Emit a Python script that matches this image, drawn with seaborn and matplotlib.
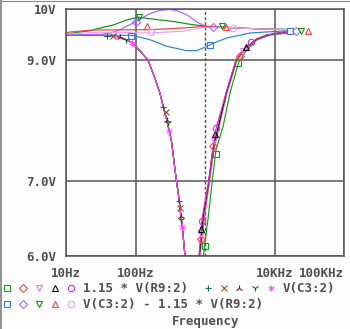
import matplotlib
matplotlib.use("Agg")
import matplotlib.pyplot as plt
import numpy as np
import pandas as pd
import seaborn as sns
from matplotlib.lines import Line2D
from matplotlib.path import Path

# ---------------------------------------------------------------------------
# AC sweep results (frequency in Hz, magnitude in V), five parameter runs each
# ---------------------------------------------------------------------------

# 1.15 * V(R9:2)
r9_run1_f = [800, 945, 1116, 1261, 1440, 1816, 2289, 3034, 3981, 5546, 8610, 14160, 15000]
r9_run1_v = [5.5, 6.0, 6.51, 6.975, 7.475, 7.837, 8.406, 8.95, 9.188, 9.379, 9.477, 9.51, 9.51]
r9_run2_f = [720, 847, 983, 1153, 1334, 1589, 2073, 2886, 3981, 5546, 7727, 13250, 15000]
r9_run2_v = [5.3, 6.0, 6.51, 6.975, 7.475, 7.837, 8.406, 9.0, 9.24, 9.39, 9.47, 9.525, 9.53]
r9_run3_f = [710, 835, 965, 1135, 1310, 1560, 2040, 2840, 3981, 5546, 7727, 13250, 15000]
r9_run3_v = [5.3, 6.0, 6.53, 6.975, 7.475, 7.837, 8.406, 9.0, 9.245, 9.395, 9.473, 9.528, 9.533]
r9_run4_f = [705, 828, 955, 1125, 1300, 1550, 2020, 2815, 3981, 5546, 7727, 13250, 15000]
r9_run4_v = [5.3, 6.0, 6.55, 6.975, 7.475, 7.837, 8.406, 9.0, 9.248, 9.398, 9.475, 9.53, 9.535]
r9_run5_f = [700, 820, 897, 945, 1116, 1290, 1440, 2005, 2793, 3981, 5546, 7727, 13250, 15000]
r9_run5_v = [5.3, 6.0, 6.45, 6.58, 6.975, 7.475, 7.80, 8.406, 9.0, 9.25, 9.40, 9.477, 9.53, 9.536]

# V(C3:2) (all five runs coincide)
c3_f = [10, 30.8, 39.3, 47.9, 59.8, 73, 89.9, 116, 151, 185, 225, 251, 281, 306,
        332, 370, 427, 452, 471, 515, 569]
c3_v = [9.477, 9.471, 9.463, 9.46, 9.432, 9.385, 9.322, 9.169, 9.0, 8.707, 8.402,
        8.171, 7.953, 7.774, 7.584, 7.172, 6.717, 6.494, 6.374, 6.004, 5.595]

# V(C3:2) - 1.15 * V(R9:2)
df_run1_f = [10, 30, 50, 92, 161, 281, 545, 760, 1000, 1176, 2051, 4440, 13250, 15000]
df_run1_v = [9.47, 9.47, 9.475, 9.467, 9.385, 9.258, 9.175, 9.175, 9.239, 9.289, 9.418,
             9.516, 9.555, 9.555]
df_run2_f = [10, 30.9, 43, 59.8, 75.5, 92, 116, 161.7, 225, 313, 409, 569, 767, 1033,
             2530, 5240, 15000]
df_run2_v = [9.483, 9.487, 9.516, 9.575, 9.655, 9.71, 9.795, 9.907, 9.969, 9.99, 9.959,
             9.867, 9.735, 9.645, 9.62, 9.60, 9.585]
df_run3_f = [10, 22.1, 34.4, 47.9, 74.7, 108.6, 190.8, 370, 569, 1000, 2530, 5240, 15000]
df_run3_v = [9.497, 9.561, 9.629, 9.675, 9.775, 9.83, 9.789, 9.741, 9.695, 9.65, 9.62,
             9.60, 9.585]
df_run4_f = [10, 11.4, 24.5, 161.7, 482, 1046, 2530, 5240, 15000]
df_run4_v = [9.52, 9.536, 9.575, 9.581, 9.615, 9.649, 9.62, 9.60, 9.585]
df_run5_f = [10, 30.8, 161.7, 482, 935, 2530, 5240, 13250, 15000]
df_run5_v = [9.497, 9.53, 9.516, 9.55, 9.625, 9.62, 9.60, 9.585, 9.585]

# Trace symbols placed along each run
r9_mark_f = [[1010, 1440, 3013], [876, 1317, 3188], [867, 1361, 3523],
             [876, 1393, 3890], [897, 1440, 4591]]
r9_mark_v = [[6.124, 7.405, 8.95], [6.214, 7.537, 9.074], [6.277, 7.632, 9.169],
             [6.346, 7.726, 9.245], [6.452, 7.818, 9.347]]
c3_mark_f = [[39.3, 251, 427], [47.9, 272, 441], [59.8, 284, 449],
             [73, 290, 455], [89.9, 306, 471]]
c3_mark_v = [[9.463, 8.171, 6.717], [9.463, 8.078, 6.63], [9.432, 7.95, 6.52],
             [9.385, 7.90, 6.47], [9.322, 7.774, 6.374]]
df_mark_f = [[86.2, 1180, 16700], [101.7, 1317, 20180], [113.4, 1739, 24060],
             [144.9, 2005, 30640], [165.5, 2504]]
df_mark_v = [[9.457, 9.277, 9.555], [9.735, 9.641, 9.555], [9.83, 9.661, 9.555],
             [9.649, 9.629, 9.555], [9.53, 9.621]]

# Axis ticks
x_ticks = [10, 100, 10000, 100000]
x_tick_labels = ["10Hz", "100Hz", "10KHz", "100KHz"]
y_ticks = [6, 7, 9, 10]
y_tick_labels = ["6.0V", "7.0V", "9.0V", "10V"]

expr_r9 = "1.15 * V(R9:2)"
expr_c3 = "V(C3:2)"
expr_df = "V(C3:2) - 1.15 * V(R9:2)"

# ---------------------------------------------------------------------------
# Styling
# ---------------------------------------------------------------------------
r9_colors = ["#1c9a1c", "#f04848", "#e27ce8", "#101010", "#d22ed2"]
c3_colors = ["#0b6b6b", "#a0501a", "#7a1a1a", "#1a5a1a", "#ff4cff"]
df_colors = ["#2f7fd8", "#a865ff", "#119111", "#f04545", "#e6a3f2"]

asterisk = Path([(0, -1), (0, 1), (-0.87, -0.5), (0.87, 0.5), (-0.87, 0.5), (0.87, -0.5)],
                [Path.MOVETO, Path.LINETO] * 3)
r9_markers = ["s", "D", "v", "^", "o"]
c3_markers = ["+", "x", "2", "1", asterisk]
df_markers = ["s", "D", "v", "^", "o"]


def msize(m):
    # diamonds read larger than the other symbols at the same size
    return 3.7 if m == "D" else 4.6


GRAY = "#555555"
TEXT = "#505050"
BG = "#fdfdfd"
FONT = dict(family="DejaVu Sans Mono", weight="bold", size=9)

sns.set_style("white")
plt.rcParams["font.family"] = ["DejaVu Sans Mono", "DejaVu Sans"]

W, H = 350, 329
fig = plt.figure(figsize=(W / 100, H / 100), dpi=100, facecolor=BG)


def px(x, y):
    return x / W, 1 - y / H


ax = fig.add_axes([66 / W, 1 - 256 / H, (344 - 66) / W, (256 - 9) / H])
ax.set_facecolor(BG)

# ---------------------------------------------------------------------------
# Traces
# ---------------------------------------------------------------------------
rows = []
palette = {}
order = []
r9_sets = [(r9_run1_f, r9_run1_v), (r9_run2_f, r9_run2_v), (r9_run3_f, r9_run3_v),
           (r9_run4_f, r9_run4_v), (r9_run5_f, r9_run5_v)]
df_sets = [(df_run1_f, df_run1_v), (df_run2_f, df_run2_v), (df_run3_f, df_run3_v),
           (df_run4_f, df_run4_v), (df_run5_f, df_run5_v)]
groups = [("r9", r9_sets, r9_colors),
          ("c3", [(c3_f, c3_v)] * 5, c3_colors),
          ("df", df_sets, df_colors)]
for name, sets, colors in groups:
    for i, (fs, vs) in enumerate(sets):
        key = f"{name}{i}"
        order.append(key)
        palette[key] = colors[i]
        for f, v in zip(fs, vs):
            rows.append({"freq": f, "volts": v, "trace": key})
data = pd.DataFrame(rows)

ax.set_xscale("log")
ax.set_yscale("log")
sns.lineplot(data=data, x="freq", y="volts", hue="trace", hue_order=order,
             palette=palette, sort=False, estimator=None, legend=False,
             linewidth=0.85, ax=ax)

for mf, mv, mk, cl in [(r9_mark_f, r9_mark_v, r9_markers, r9_colors),
                       (c3_mark_f, c3_mark_v, c3_markers, c3_colors),
                       (df_mark_f, df_mark_v, df_markers, df_colors)]:
    for fs, vs, m, c in zip(mf, mv, mk, cl):
        ax.plot(fs, vs, ls="none", marker=m, ms=msize(m), mfc="none", mec=c, mew=0.8,
                clip_on=False, zorder=5)

# Cursor line at 1 kHz
ax.axvline(1000, color=GRAY, lw=1.0, dashes=(2.2, 1.5), zorder=1)

# ---------------------------------------------------------------------------
# Axes
# ---------------------------------------------------------------------------
ax.set_xlim(10, 100000)
ax.set_ylim(6, 10)
ax.set_xticks(x_ticks)
ax.set_xticklabels(x_tick_labels, **FONT, color=TEXT)
ax.set_yticks(y_ticks)
ax.set_yticklabels(y_tick_labels, **FONT, color=TEXT)
ax.xaxis.set_minor_locator(matplotlib.ticker.NullLocator())
ax.yaxis.set_minor_locator(matplotlib.ticker.NullLocator())
ax.get_xticklabels()[-1].set_horizontalalignment("right")
ax.tick_params(axis="y", direction="out", length=5.8, width=1.1, color=GRAY, pad=1)
ax.tick_params(axis="x", direction="out", length=2.9, width=1.1, color=GRAY, pad=5)
ax.set_xlabel("")
ax.set_ylabel("")
ax.grid(True, color=GRAY, lw=1.1)
ax.set_axisbelow(True)
for s in ax.spines.values():
    s.set_color(GRAY)
    s.set_linewidth(1.1)
    s.set_visible(True)

# ---------------------------------------------------------------------------
# Trace key
# ---------------------------------------------------------------------------
mx = [7.3, 23.3, 39.3, 55, 71]
for y, mks, cls in [(287.7, r9_markers, r9_colors), (304.3, df_markers, df_colors)]:
    for x, m, c in zip(mx, mks, cls):
        fig.add_artist(Line2D([x / W], [1 - y / H], transform=fig.transFigure,
                              ls="none", marker=m, ms=msize(m), mfc="none", mec=c,
                              mew=0.8))
mx2 = [208.3, 224, 239.3, 255.3, 271]
for x, m, c in zip(mx2, c3_markers, c3_colors):
    fig.add_artist(Line2D([x / W], [1 - 287.7 / H], transform=fig.transFigure,
                          ls="none", marker=m, ms=msize(m), mfc="none", mec=c, mew=0.8))

fig.text(*px(82.7, 291.7), expr_r9, ha="left", va="baseline", color=TEXT, **FONT)
fig.text(*px(282.7, 291.7), expr_c3, ha="left", va="baseline", color=TEXT, **FONT)
fig.text(*px(82.7, 308.3), expr_df, ha="left", va="baseline", color=TEXT, **FONT)
fig.text(*px(205.7, 325), "Frequency", ha="center", va="baseline", color=TEXT, **FONT)

# Window border
fig.add_artist(Line2D([0.7 / W, 0.7 / W], [0, 1], transform=fig.transFigure,
                      color="#8a8a8a", lw=1.3))
fig.add_artist(Line2D([0, 1], [1 - 0.5 / H, 1 - 0.5 / H], transform=fig.transFigure,
                      color="#8a8a8a", lw=0.8))

fig.savefig("out.png", dpi=100, facecolor=BG)
